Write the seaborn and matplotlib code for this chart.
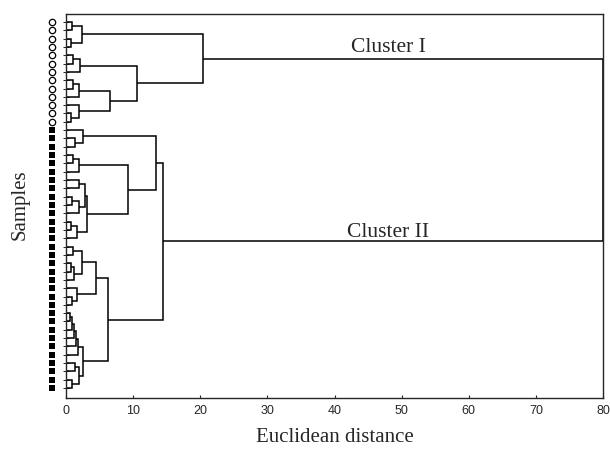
import numpy as np
import pandas as pd
import matplotlib.pyplot as plt
import seaborn as sns

# leaves, top to bottom: 13 circle samples, 32 square samples
leaf_kind = ['circle'] * 13 + ['square'] * 32

# merges (node ids >= 45 are earlier merges, in order) and their distances
merge_a = [0, 2, 45, 4, 48, 7, 50, 11, 10, 51, 49, 47,
           14, 13, 16, 59, 19, 21, 62, 61, 24, 65, 64, 60, 58,
           27, 29, 71, 70, 33, 32, 73, 35, 77, 78, 79, 80, 41, 43, 82, 81, 76, 69,
           56]
merge_b = [1, 3, 46, 5, 6, 8, 9, 12, 52, 53, 54, 55,
           15, 57, 17, 18, 20, 22, 23, 63, 25, 26, 66, 67, 68,
           28, 30, 31, 72, 34, 74, 75, 36, 37, 38, 39, 40, 42, 44, 83, 84, 85, 86,
           87]
merge_h = [0.9, 0.8, 2.4, 1.0, 2.1, 1.0, 2.0, 0.8, 1.9, 6.6, 10.6, 20.4,
           1.3, 2.5, 1.0, 1.9, 1.9, 0.9, 1.9, 2.8, 0.8, 1.6, 3.2, 9.2, 13.4,
           1.0, 0.7, 1.2, 2.4, 0.9, 1.6, 4.4, 0.6, 0.9, 1.2, 1.5, 1.8, 1.3, 0.9, 1.9, 2.6, 6.2, 14.4,
           80.0]

cluster_names = ['Cluster I', 'Cluster II']
cluster_y = [3.6, 25.8]
x_ticks = [0, 10, 20, 30, 40, 50, 60, 70, 80]

sns.set_style("ticks")
plt.rcParams['font.family'] = ['Liberation Serif', 'DejaVu Serif']

fig = plt.figure(figsize=(6.1, 4.53), dpi=100)
ax = fig.add_axes([66 / 610, 1 - 398 / 453, (603 - 66) / 610, (398 - 14) / 453])

n = len(leaf_kind)
px = {i: 0.0 for i in range(n)}
py = {i: float(i) for i in range(n)}
for j, (a, b, h) in enumerate(zip(merge_a, merge_b, merge_h)):
    ax.plot([px[a], h, h, px[b]], [py[a], py[a], py[b], py[b]],
            color='black', lw=1.1, solid_joinstyle='miter', solid_capstyle='butt')
    px[n + j] = h
    py[n + j] = (py[a] + py[b]) / 2

leaves = pd.DataFrame({'x': -2.1, 'y': np.arange(n), 'kind': leaf_kind})
sns.scatterplot(data=leaves[leaves.kind == 'circle'], x='x', y='y', marker='o', s=21,
                color='white', edgecolor='black', linewidth=0.9, clip_on=False, ax=ax)
sns.scatterplot(data=leaves[leaves.kind == 'square'], x='x', y='y', marker='s', s=19,
                color='black', edgecolor='black', linewidth=0, clip_on=False, ax=ax)

for name, y in zip(cluster_names, cluster_y):
    ax.text(48, y, name, ha='center', va='baseline', fontsize=15.5)

ax.set_xlim(0, 80)
ax.set_ylim(45.2, -0.96)
ax.set_xticks(x_ticks)
ax.set_xticklabels([str(t) for t in x_ticks], fontfamily='Liberation Sans', fontsize=9)
ax.set_yticks(range(n))
ax.set_yticklabels([])
ax.tick_params(axis='x', direction='in', length=2.5, width=0.8, pad=5)
ax.tick_params(axis='y', direction='inout', length=4, width=0.7)
ax.set_xlabel('')
ax.set_ylabel('')
for s in ax.spines.values():
    s.set_linewidth(1.0)

fig.text(335 / 610, 1 - 438 / 453, 'Euclidean distance', ha='center', va='center', fontsize=15)
fig.text(20 / 610, 1 - 205 / 453, 'Samples', ha='center', va='center', rotation=90, fontsize=15)

fig.savefig('out.png', dpi=100)
